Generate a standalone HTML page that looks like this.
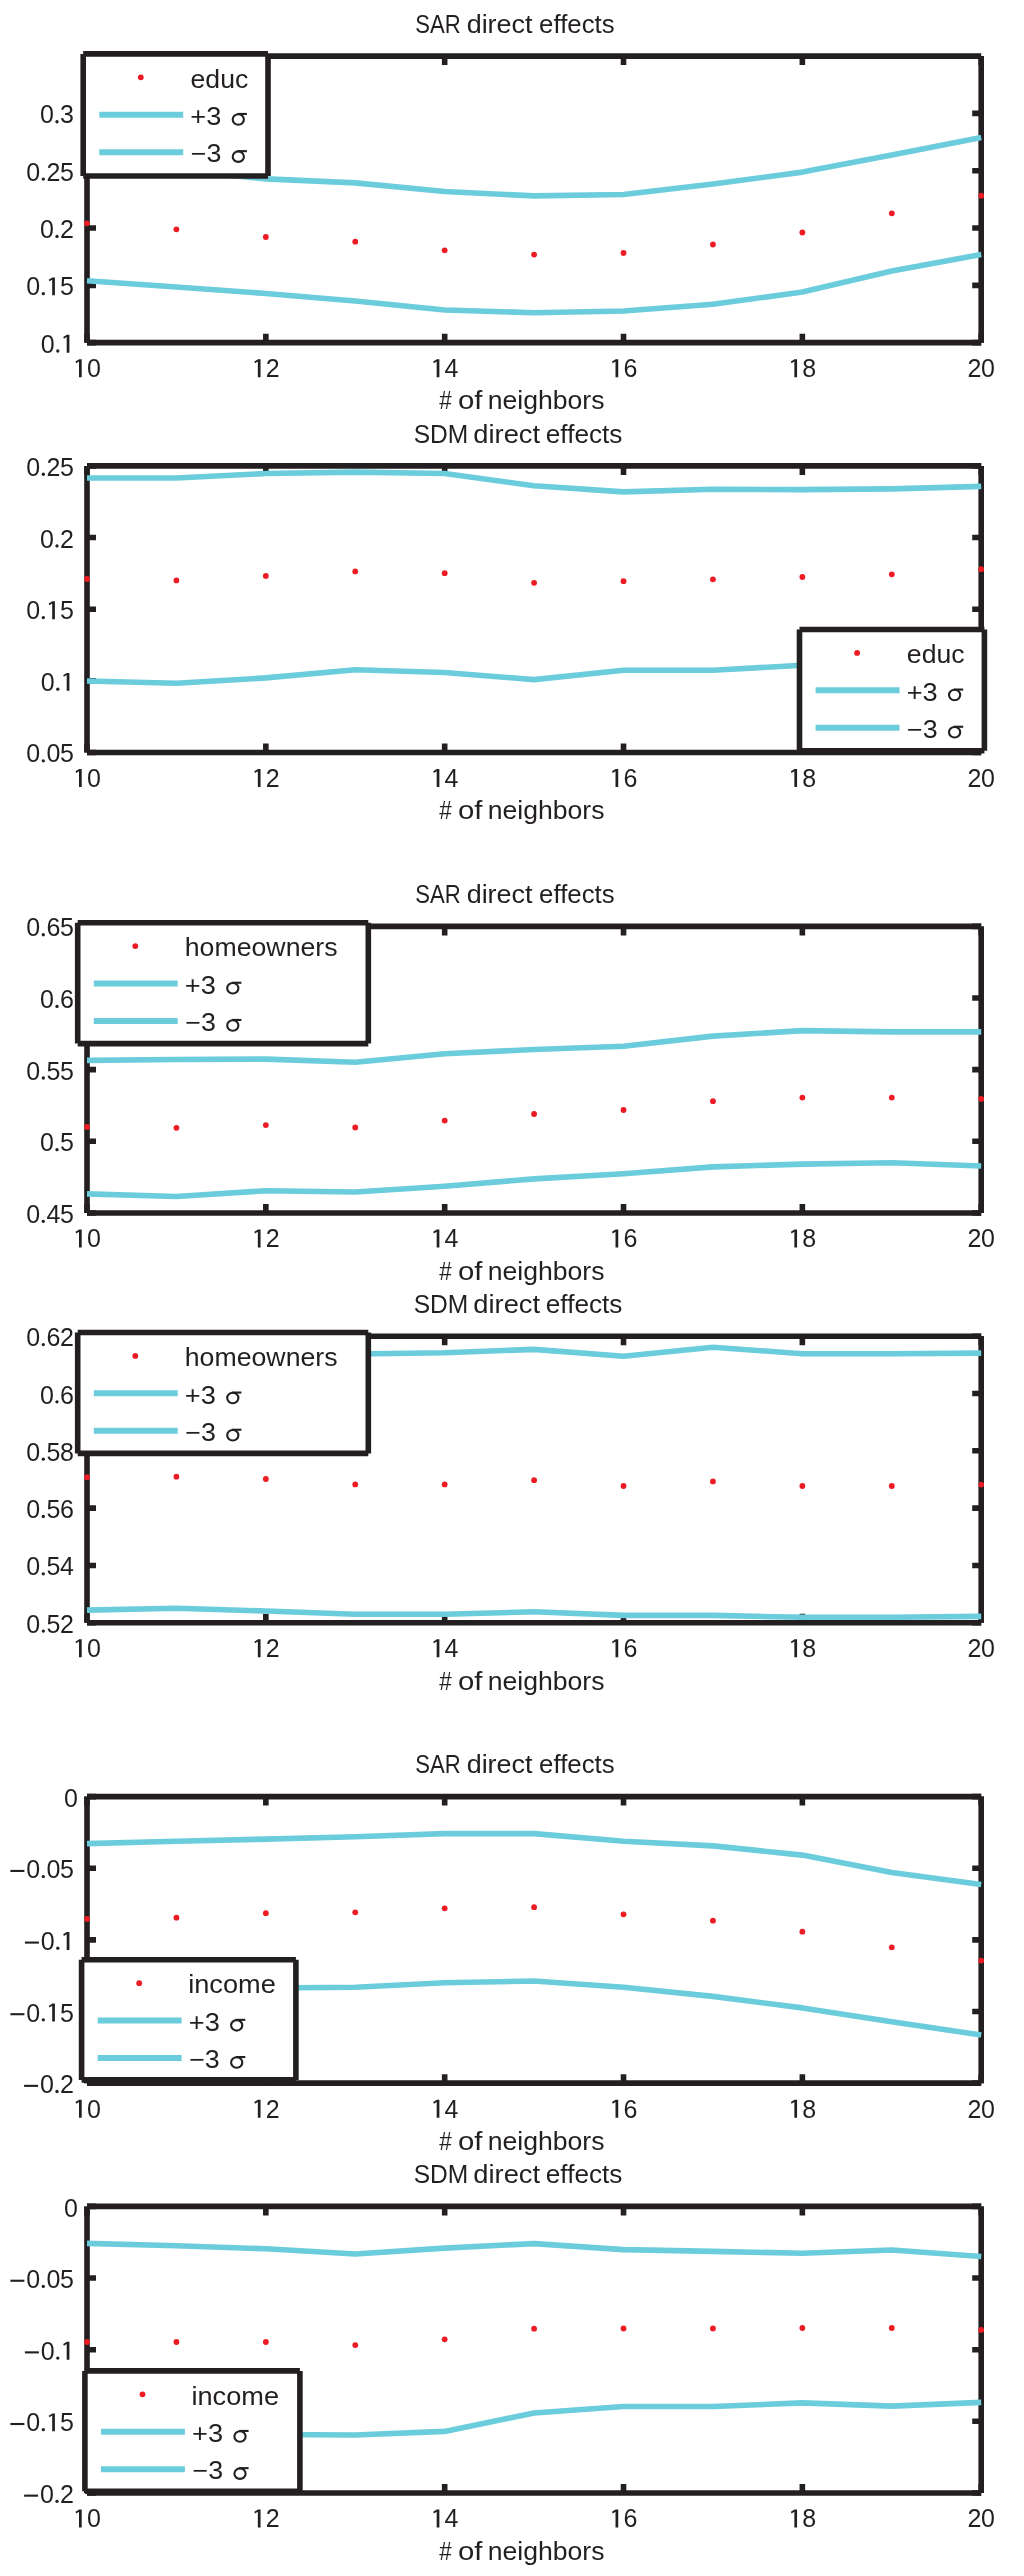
<!DOCTYPE html>
<html><head><meta charset="utf-8"><style>html,body{margin:0;padding:0;background:#fff;width:1024px;height:2576px;overflow:hidden}svg{display:block;will-change:transform}</style></head>
<body><svg width="1024" height="2576" viewBox="0 0 1024 2576" font-family="Liberation Sans, sans-serif" font-size="25" fill="#231f20">
<rect width="1024" height="2576" fill="#fff"/>
<g><path d="M87 342.65H981.2M87 56.1H981.2M87 56.1V342.65M981.2 56.1V342.65" stroke="#231f20" stroke-width="5.6" fill="none"/><path d="M87 342.65V333.65M87 56.1V65.1M265.84 342.65V333.65M265.84 56.1V65.1M444.68 342.65V333.65M444.68 56.1V65.1M623.52 342.65V333.65M623.52 56.1V65.1M802.36 342.65V333.65M802.36 56.1V65.1M981.2 342.65V333.65M981.2 56.1V65.1M87 342.65H96M981.2 342.65H972.2M87 285.34H96M981.2 285.34H972.2M87 228.03H96M981.2 228.03H972.2M87 170.72H96M981.2 170.72H972.2M87 113.41H96M981.2 113.41H972.2" stroke="#231f20" stroke-width="5.6" fill="none"/><polyline points="87,165 176.42,170 265.84,178.9 355.26,182.9 444.68,191.5 534.1,195.9 623.52,194.5 712.94,184 802.36,172.1 891.78,154.9 981.2,137.6" stroke="#6bccdc" stroke-width="5.6" fill="none" stroke-linejoin="round"/><polyline points="87,280.75 176.42,287 265.84,293.5 355.26,301 444.68,310 534.1,312.7 623.52,311 712.94,304.3 802.36,292 891.78,271 981.2,254.5" stroke="#6bccdc" stroke-width="5.6" fill="none" stroke-linejoin="round"/><circle cx="87" cy="223.3" r="2.9" fill="#ed1c24"/><circle cx="176.42" cy="229.3" r="2.9" fill="#ed1c24"/><circle cx="265.84" cy="237" r="2.9" fill="#ed1c24"/><circle cx="355.26" cy="241.7" r="2.9" fill="#ed1c24"/><circle cx="444.68" cy="250.3" r="2.9" fill="#ed1c24"/><circle cx="534.1" cy="254.6" r="2.9" fill="#ed1c24"/><circle cx="623.52" cy="253" r="2.9" fill="#ed1c24"/><circle cx="712.94" cy="244.5" r="2.9" fill="#ed1c24"/><circle cx="802.36" cy="232.5" r="2.9" fill="#ed1c24"/><circle cx="891.78" cy="213.3" r="2.9" fill="#ed1c24"/><circle cx="981.2" cy="195.7" r="2.9" fill="#ed1c24"/><path d="M81.70 377.15V359.25H79.20L75.50 361.55L76.20 363.15L79.00 361.45V377.15Z"/><text x="86.90" y="377.15">0</text><path d="M260.54 377.15V359.25H258.04L254.34 361.55L255.04 363.15L257.84 361.45V377.15Z"/><text x="265.74" y="377.15">2</text><path d="M439.38 377.15V359.25H436.88L433.18 361.55L433.88 363.15L436.68 361.45V377.15Z"/><text x="444.58" y="377.15">4</text><path d="M618.22 377.15V359.25H615.72L612.02 361.55L612.72 363.15L615.52 361.45V377.15Z"/><text x="623.42" y="377.15">6</text><path d="M797.06 377.15V359.25H794.56L790.86 361.55L791.56 363.15L794.36 361.45V377.15Z"/><text x="802.26" y="377.15">8</text><text x="967.40 981.10" y="377.15">20</text><circle cx="57.80" cy="351.00" r="1.65"/><path d="M69.40 352.65V334.75H66.90L63.20 337.05L63.90 338.65L66.70 336.95V352.65Z"/><text x="40.70" y="352.65">0</text><circle cx="43.30" cy="293.69" r="1.65"/><path d="M54.90 295.34V277.44H52.40L48.70 279.74L49.40 281.34L52.20 279.64V295.34Z"/><text x="26.20 60.10" y="295.34">05</text><circle cx="57.00" cy="236.38" r="1.65"/><text x="39.90 60.10" y="238.03">02</text><circle cx="43.30" cy="179.07" r="1.65"/><text x="26.20 46.40 60.10" y="180.72">025</text><circle cx="57.00" cy="121.76" r="1.65"/><text x="39.90 60.10" y="123.41">03</text><text x="415.25" y="32.70" textLength="45.38" lengthAdjust="spacingAndGlyphs">SAR</text><text x="466.67" y="32.70" textLength="65.83" lengthAdjust="spacingAndGlyphs">direct</text><text x="539.11" y="32.70" textLength="75.52" lengthAdjust="spacingAndGlyphs">effects</text><text x="439.30" y="409.40" textLength="12.51" lengthAdjust="spacingAndGlyphs">#</text><text x="457.97" y="409.40" textLength="24.49" lengthAdjust="spacingAndGlyphs">of</text><text x="487.74" y="409.40" textLength="116.73" lengthAdjust="spacingAndGlyphs">neighbors</text><rect x="83.2" y="53.9" width="184.8" height="122.1" fill="#fff"/><path d="M83.2 53.9H268M83.2 176H268M83.2 53.9V176M268 53.9V176" stroke="#231f20" stroke-width="5.6" fill="none"/><circle cx="140.8" cy="77.3" r="2.9" fill="#ed1c24"/><path d="M99.3 114.7H183.2M99.3 152.2H183.2" stroke="#6bccdc" stroke-width="6" fill="none"/><text x="190.57" y="87.50" textLength="57.73" lengthAdjust="spacingAndGlyphs">educ</text><text x="190.37" y="124.90" textLength="31.02" lengthAdjust="spacingAndGlyphs">+3</text><g transform="translate(191.8 124.9)" stroke="#231f20" fill="none" stroke-width="2.1"><ellipse cx="46.5" cy="-5.45" rx="5.6" ry="5.25"/><path d="M45.5 -10.95H55.1"/></g><text x="190.78" y="162.10" textLength="30.60" lengthAdjust="spacingAndGlyphs">−3</text><g transform="translate(191.8 162.1)" stroke="#231f20" fill="none" stroke-width="2.1"><ellipse cx="46.5" cy="-5.45" rx="5.6" ry="5.25"/><path d="M45.5 -10.95H55.1"/></g></g>
<g><path d="M87 752.45H981.2M87 465.9H981.2M87 465.9V752.45M981.2 465.9V752.45" stroke="#231f20" stroke-width="5.6" fill="none"/><path d="M87 752.45V743.45M87 465.9V474.9M265.84 752.45V743.45M265.84 465.9V474.9M444.68 752.45V743.45M444.68 465.9V474.9M623.52 752.45V743.45M623.52 465.9V474.9M802.36 752.45V743.45M802.36 465.9V474.9M981.2 752.45V743.45M981.2 465.9V474.9M87 752.45H96M981.2 752.45H972.2M87 680.81H96M981.2 680.81H972.2M87 609.18H96M981.2 609.18H972.2M87 537.54H96M981.2 537.54H972.2M87 465.9H96M981.2 465.9H972.2" stroke="#231f20" stroke-width="5.6" fill="none"/><polyline points="87,478 176.42,478 265.84,473.5 355.26,472.1 444.68,473.5 534.1,485.8 623.52,491.9 712.94,489.3 802.36,489.6 891.78,488.9 981.2,486.4" stroke="#6bccdc" stroke-width="5.6" fill="none" stroke-linejoin="round"/><polyline points="87,681 176.42,683.3 265.84,677.9 355.26,669.8 444.68,672.5 534.1,679.6 623.52,670.2 712.94,670.2 802.36,665.2 891.78,663 981.2,661" stroke="#6bccdc" stroke-width="5.6" fill="none" stroke-linejoin="round"/><circle cx="87" cy="579" r="2.9" fill="#ed1c24"/><circle cx="176.42" cy="580.4" r="2.9" fill="#ed1c24"/><circle cx="265.84" cy="575.9" r="2.9" fill="#ed1c24"/><circle cx="355.26" cy="571.4" r="2.9" fill="#ed1c24"/><circle cx="444.68" cy="573.2" r="2.9" fill="#ed1c24"/><circle cx="534.1" cy="582.8" r="2.9" fill="#ed1c24"/><circle cx="623.52" cy="581.2" r="2.9" fill="#ed1c24"/><circle cx="712.94" cy="579.3" r="2.9" fill="#ed1c24"/><circle cx="802.36" cy="577" r="2.9" fill="#ed1c24"/><circle cx="891.78" cy="574.3" r="2.9" fill="#ed1c24"/><circle cx="981.2" cy="569.2" r="2.9" fill="#ed1c24"/><path d="M81.70 786.95V769.05H79.20L75.50 771.35L76.20 772.95L79.00 771.25V786.95Z"/><text x="86.90" y="786.95">0</text><path d="M260.54 786.95V769.05H258.04L254.34 771.35L255.04 772.95L257.84 771.25V786.95Z"/><text x="265.74" y="786.95">2</text><path d="M439.38 786.95V769.05H436.88L433.18 771.35L433.88 772.95L436.68 771.25V786.95Z"/><text x="444.58" y="786.95">4</text><path d="M618.22 786.95V769.05H615.72L612.02 771.35L612.72 772.95L615.52 771.25V786.95Z"/><text x="623.42" y="786.95">6</text><path d="M797.06 786.95V769.05H794.56L790.86 771.35L791.56 772.95L794.36 771.25V786.95Z"/><text x="802.26" y="786.95">8</text><text x="967.40 981.10" y="786.95">20</text><circle cx="43.30" cy="760.80" r="1.65"/><text x="26.20 46.40 60.10" y="762.45">005</text><circle cx="57.80" cy="689.16" r="1.65"/><path d="M69.40 690.81V672.91H66.90L63.20 675.21L63.90 676.81L66.70 675.11V690.81Z"/><text x="40.70" y="690.81">0</text><circle cx="43.30" cy="617.53" r="1.65"/><path d="M54.90 619.18V601.28H52.40L48.70 603.58L49.40 605.18L52.20 603.48V619.18Z"/><text x="26.20 60.10" y="619.18">05</text><circle cx="57.00" cy="545.89" r="1.65"/><text x="39.90 60.10" y="547.54">02</text><circle cx="43.30" cy="474.25" r="1.65"/><text x="26.20 46.40 60.10" y="475.90">025</text><text x="413.68" y="442.50" textLength="54.58" lengthAdjust="spacingAndGlyphs">SDM</text><text x="473.35" y="442.50" textLength="66.75" lengthAdjust="spacingAndGlyphs">direct</text><text x="545.79" y="442.50" textLength="76.65" lengthAdjust="spacingAndGlyphs">effects</text><text x="439.30" y="819.20" textLength="12.51" lengthAdjust="spacingAndGlyphs">#</text><text x="457.97" y="819.20" textLength="24.49" lengthAdjust="spacingAndGlyphs">of</text><text x="487.74" y="819.20" textLength="116.73" lengthAdjust="spacingAndGlyphs">neighbors</text><rect x="799.5" y="629.5" width="184.9" height="121.2" fill="#fff"/><path d="M799.5 629.5H984.4M799.5 750.7H984.4M799.5 629.5V750.7M984.4 629.5V750.7" stroke="#231f20" stroke-width="5.6" fill="none"/><circle cx="857.1" cy="652.9" r="2.9" fill="#ed1c24"/><path d="M815.6 690.3H899.5M815.6 727.8H899.5" stroke="#6bccdc" stroke-width="6" fill="none"/><text x="906.87" y="663.10" textLength="57.73" lengthAdjust="spacingAndGlyphs">educ</text><text x="906.67" y="700.50" textLength="31.02" lengthAdjust="spacingAndGlyphs">+3</text><g transform="translate(908.1 700.5)" stroke="#231f20" fill="none" stroke-width="2.1"><ellipse cx="46.5" cy="-5.45" rx="5.6" ry="5.25"/><path d="M45.5 -10.95H55.1"/></g><text x="907.08" y="737.70" textLength="30.60" lengthAdjust="spacingAndGlyphs">−3</text><g transform="translate(908.1 737.7)" stroke="#231f20" fill="none" stroke-width="2.1"><ellipse cx="46.5" cy="-5.45" rx="5.6" ry="5.25"/><path d="M45.5 -10.95H55.1"/></g></g>
<g><path d="M87 1212.95H981.2M87 926.4H981.2M87 926.4V1212.95M981.2 926.4V1212.95" stroke="#231f20" stroke-width="5.6" fill="none"/><path d="M87 1212.95V1203.95M87 926.4V935.4M265.84 1212.95V1203.95M265.84 926.4V935.4M444.68 1212.95V1203.95M444.68 926.4V935.4M623.52 1212.95V1203.95M623.52 926.4V935.4M802.36 1212.95V1203.95M802.36 926.4V935.4M981.2 1212.95V1203.95M981.2 926.4V935.4M87 1212.95H96M981.2 1212.95H972.2M87 1141.31H96M981.2 1141.31H972.2M87 1069.67H96M981.2 1069.67H972.2M87 998.04H96M981.2 998.04H972.2M87 926.4H96M981.2 926.4H972.2" stroke="#231f20" stroke-width="5.6" fill="none"/><polyline points="87,1060.4 176.42,1059.5 265.84,1059.1 355.26,1062.2 444.68,1053.7 534.1,1049.5 623.52,1046.2 712.94,1036.1 802.36,1030.6 891.78,1031.9 981.2,1031.9" stroke="#6bccdc" stroke-width="5.6" fill="none" stroke-linejoin="round"/><polyline points="87,1193.9 176.42,1196.5 265.84,1190.7 355.26,1192 444.68,1186.2 534.1,1178.9 623.52,1173.8 712.94,1166.9 802.36,1164.1 891.78,1162.7 981.2,1166" stroke="#6bccdc" stroke-width="5.6" fill="none" stroke-linejoin="round"/><circle cx="87" cy="1126.9" r="2.9" fill="#ed1c24"/><circle cx="176.42" cy="1127.8" r="2.9" fill="#ed1c24"/><circle cx="265.84" cy="1125.1" r="2.9" fill="#ed1c24"/><circle cx="355.26" cy="1127.4" r="2.9" fill="#ed1c24"/><circle cx="444.68" cy="1120.6" r="2.9" fill="#ed1c24"/><circle cx="534.1" cy="1114" r="2.9" fill="#ed1c24"/><circle cx="623.52" cy="1110" r="2.9" fill="#ed1c24"/><circle cx="712.94" cy="1101.2" r="2.9" fill="#ed1c24"/><circle cx="802.36" cy="1097.6" r="2.9" fill="#ed1c24"/><circle cx="891.78" cy="1097.6" r="2.9" fill="#ed1c24"/><circle cx="981.2" cy="1098.9" r="2.9" fill="#ed1c24"/><path d="M81.70 1247.45V1229.55H79.20L75.50 1231.85L76.20 1233.45L79.00 1231.75V1247.45Z"/><text x="86.90" y="1247.45">0</text><path d="M260.54 1247.45V1229.55H258.04L254.34 1231.85L255.04 1233.45L257.84 1231.75V1247.45Z"/><text x="265.74" y="1247.45">2</text><path d="M439.38 1247.45V1229.55H436.88L433.18 1231.85L433.88 1233.45L436.68 1231.75V1247.45Z"/><text x="444.58" y="1247.45">4</text><path d="M618.22 1247.45V1229.55H615.72L612.02 1231.85L612.72 1233.45L615.52 1231.75V1247.45Z"/><text x="623.42" y="1247.45">6</text><path d="M797.06 1247.45V1229.55H794.56L790.86 1231.85L791.56 1233.45L794.36 1231.75V1247.45Z"/><text x="802.26" y="1247.45">8</text><text x="967.40 981.10" y="1247.45">20</text><circle cx="43.30" cy="1221.30" r="1.65"/><text x="26.20 46.40 60.10" y="1222.95">045</text><circle cx="57.00" cy="1149.66" r="1.65"/><text x="39.90 60.10" y="1151.31">05</text><circle cx="43.30" cy="1078.02" r="1.65"/><text x="26.20 46.40 60.10" y="1079.67">055</text><circle cx="57.00" cy="1006.39" r="1.65"/><text x="39.90 60.10" y="1008.04">06</text><circle cx="43.30" cy="934.75" r="1.65"/><text x="26.20 46.40 60.10" y="936.40">065</text><text x="415.25" y="903.00" textLength="45.38" lengthAdjust="spacingAndGlyphs">SAR</text><text x="466.67" y="903.00" textLength="65.83" lengthAdjust="spacingAndGlyphs">direct</text><text x="539.11" y="903.00" textLength="75.52" lengthAdjust="spacingAndGlyphs">effects</text><text x="439.30" y="1279.70" textLength="12.51" lengthAdjust="spacingAndGlyphs">#</text><text x="457.97" y="1279.70" textLength="24.49" lengthAdjust="spacingAndGlyphs">of</text><text x="487.74" y="1279.70" textLength="116.73" lengthAdjust="spacingAndGlyphs">neighbors</text><rect x="77.7" y="922.7" width="290.6" height="120.9" fill="#fff"/><path d="M77.7 922.7H368.3M77.7 1043.6H368.3M77.7 922.7V1043.6M368.3 922.7V1043.6" stroke="#231f20" stroke-width="5.6" fill="none"/><circle cx="135.3" cy="946.1" r="2.9" fill="#ed1c24"/><path d="M93.8 983.5H177.7M93.8 1021H177.7" stroke="#6bccdc" stroke-width="6" fill="none"/><text x="184.75" y="956.30" textLength="152.82" lengthAdjust="spacingAndGlyphs">homeowners</text><text x="184.87" y="993.70" textLength="31.02" lengthAdjust="spacingAndGlyphs">+3</text><g transform="translate(186.3 993.7)" stroke="#231f20" fill="none" stroke-width="2.1"><ellipse cx="46.5" cy="-5.45" rx="5.6" ry="5.25"/><path d="M45.5 -10.95H55.1"/></g><text x="185.28" y="1030.90" textLength="30.60" lengthAdjust="spacingAndGlyphs">−3</text><g transform="translate(186.3 1030.9)" stroke="#231f20" fill="none" stroke-width="2.1"><ellipse cx="46.5" cy="-5.45" rx="5.6" ry="5.25"/><path d="M45.5 -10.95H55.1"/></g></g>
<g><path d="M87 1622.75H981.2M87 1336.2H981.2M87 1336.2V1622.75M981.2 1336.2V1622.75" stroke="#231f20" stroke-width="5.6" fill="none"/><path d="M87 1622.75V1613.75M87 1336.2V1345.2M265.84 1622.75V1613.75M265.84 1336.2V1345.2M444.68 1622.75V1613.75M444.68 1336.2V1345.2M623.52 1622.75V1613.75M623.52 1336.2V1345.2M802.36 1622.75V1613.75M802.36 1336.2V1345.2M981.2 1622.75V1613.75M981.2 1336.2V1345.2M87 1622.75H96M981.2 1622.75H972.2M87 1565.44H96M981.2 1565.44H972.2M87 1508.13H96M981.2 1508.13H972.2M87 1450.82H96M981.2 1450.82H972.2M87 1393.51H96M981.2 1393.51H972.2M87 1336.2H96M981.2 1336.2H972.2" stroke="#231f20" stroke-width="5.6" fill="none"/><polyline points="87,1354 176.42,1354 265.84,1354 355.26,1354 444.68,1352.8 534.1,1349.4 623.52,1356.3 712.94,1347.2 802.36,1353.75 891.78,1353.75 981.2,1353.1" stroke="#6bccdc" stroke-width="5.6" fill="none" stroke-linejoin="round"/><polyline points="87,1610.1 176.42,1608.3 265.84,1611 355.26,1614.2 444.68,1614.2 534.1,1611.8 623.52,1615.4 712.94,1615.4 802.36,1617.3 891.78,1617.3 981.2,1616.4" stroke="#6bccdc" stroke-width="5.6" fill="none" stroke-linejoin="round"/><circle cx="87" cy="1477.2" r="2.9" fill="#ed1c24"/><circle cx="176.42" cy="1476.7" r="2.9" fill="#ed1c24"/><circle cx="265.84" cy="1479" r="2.9" fill="#ed1c24"/><circle cx="355.26" cy="1484.4" r="2.9" fill="#ed1c24"/><circle cx="444.68" cy="1484.4" r="2.9" fill="#ed1c24"/><circle cx="534.1" cy="1480.2" r="2.9" fill="#ed1c24"/><circle cx="623.52" cy="1486" r="2.9" fill="#ed1c24"/><circle cx="712.94" cy="1481.4" r="2.9" fill="#ed1c24"/><circle cx="802.36" cy="1486" r="2.9" fill="#ed1c24"/><circle cx="891.78" cy="1486" r="2.9" fill="#ed1c24"/><circle cx="981.2" cy="1484.6" r="2.9" fill="#ed1c24"/><path d="M81.70 1657.25V1639.35H79.20L75.50 1641.65L76.20 1643.25L79.00 1641.55V1657.25Z"/><text x="86.90" y="1657.25">0</text><path d="M260.54 1657.25V1639.35H258.04L254.34 1641.65L255.04 1643.25L257.84 1641.55V1657.25Z"/><text x="265.74" y="1657.25">2</text><path d="M439.38 1657.25V1639.35H436.88L433.18 1641.65L433.88 1643.25L436.68 1641.55V1657.25Z"/><text x="444.58" y="1657.25">4</text><path d="M618.22 1657.25V1639.35H615.72L612.02 1641.65L612.72 1643.25L615.52 1641.55V1657.25Z"/><text x="623.42" y="1657.25">6</text><path d="M797.06 1657.25V1639.35H794.56L790.86 1641.65L791.56 1643.25L794.36 1641.55V1657.25Z"/><text x="802.26" y="1657.25">8</text><text x="967.40 981.10" y="1657.25">20</text><circle cx="43.30" cy="1631.10" r="1.65"/><text x="26.20 46.40 60.10" y="1632.75">052</text><circle cx="43.30" cy="1573.79" r="1.65"/><text x="26.20 46.40 60.10" y="1575.44">054</text><circle cx="43.30" cy="1516.48" r="1.65"/><text x="26.20 46.40 60.10" y="1518.13">056</text><circle cx="43.30" cy="1459.17" r="1.65"/><text x="26.20 46.40 60.10" y="1460.82">058</text><circle cx="57.00" cy="1401.86" r="1.65"/><text x="39.90 60.10" y="1403.51">06</text><circle cx="43.30" cy="1344.55" r="1.65"/><text x="26.20 46.40 60.10" y="1346.20">062</text><text x="413.68" y="1312.80" textLength="54.58" lengthAdjust="spacingAndGlyphs">SDM</text><text x="473.35" y="1312.80" textLength="66.75" lengthAdjust="spacingAndGlyphs">direct</text><text x="545.79" y="1312.80" textLength="76.65" lengthAdjust="spacingAndGlyphs">effects</text><text x="439.30" y="1689.50" textLength="12.51" lengthAdjust="spacingAndGlyphs">#</text><text x="457.97" y="1689.50" textLength="24.49" lengthAdjust="spacingAndGlyphs">of</text><text x="487.74" y="1689.50" textLength="116.73" lengthAdjust="spacingAndGlyphs">neighbors</text><rect x="77.7" y="1332.5" width="290.6" height="120.9" fill="#fff"/><path d="M77.7 1332.5H368.3M77.7 1453.4H368.3M77.7 1332.5V1453.4M368.3 1332.5V1453.4" stroke="#231f20" stroke-width="5.6" fill="none"/><circle cx="135.3" cy="1355.9" r="2.9" fill="#ed1c24"/><path d="M93.8 1393.3H177.7M93.8 1430.8H177.7" stroke="#6bccdc" stroke-width="6" fill="none"/><text x="184.75" y="1366.10" textLength="152.82" lengthAdjust="spacingAndGlyphs">homeowners</text><text x="184.87" y="1403.50" textLength="31.02" lengthAdjust="spacingAndGlyphs">+3</text><g transform="translate(186.3 1403.5)" stroke="#231f20" fill="none" stroke-width="2.1"><ellipse cx="46.5" cy="-5.45" rx="5.6" ry="5.25"/><path d="M45.5 -10.95H55.1"/></g><text x="185.28" y="1440.70" textLength="30.60" lengthAdjust="spacingAndGlyphs">−3</text><g transform="translate(186.3 1440.7)" stroke="#231f20" fill="none" stroke-width="2.1"><ellipse cx="46.5" cy="-5.45" rx="5.6" ry="5.25"/><path d="M45.5 -10.95H55.1"/></g></g>
<g><path d="M87 2083.15H981.2M87 1796.6H981.2M87 1796.6V2083.15M981.2 1796.6V2083.15" stroke="#231f20" stroke-width="5.6" fill="none"/><path d="M87 2083.15V2074.15M87 1796.6V1805.6M265.84 2083.15V2074.15M265.84 1796.6V1805.6M444.68 2083.15V2074.15M444.68 1796.6V1805.6M623.52 2083.15V2074.15M623.52 1796.6V1805.6M802.36 2083.15V2074.15M802.36 1796.6V1805.6M981.2 2083.15V2074.15M981.2 1796.6V1805.6M87 2083.15H96M981.2 2083.15H972.2M87 2011.51H96M981.2 2011.51H972.2M87 1939.88H96M981.2 1939.88H972.2M87 1868.24H96M981.2 1868.24H972.2M87 1796.6H96M981.2 1796.6H972.2" stroke="#231f20" stroke-width="5.6" fill="none"/><polyline points="87,1843.6 176.42,1841.3 265.84,1839.1 355.26,1836.8 444.68,1833.6 534.1,1833.6 623.52,1841.3 712.94,1845.9 802.36,1855.1 891.78,1872.5 981.2,1884.5" stroke="#6bccdc" stroke-width="5.6" fill="none" stroke-linejoin="round"/><polyline points="87,1990 176.42,1989 265.84,1988 355.26,1987.3 444.68,1982.7 534.1,1981 623.52,1987.3 712.94,1996.4 802.36,2007.9 891.78,2021.7 981.2,2035" stroke="#6bccdc" stroke-width="5.6" fill="none" stroke-linejoin="round"/><circle cx="87" cy="1919" r="2.9" fill="#ed1c24"/><circle cx="176.42" cy="1917.7" r="2.9" fill="#ed1c24"/><circle cx="265.84" cy="1913.2" r="2.9" fill="#ed1c24"/><circle cx="355.26" cy="1912.3" r="2.9" fill="#ed1c24"/><circle cx="444.68" cy="1908.3" r="2.9" fill="#ed1c24"/><circle cx="534.1" cy="1907.2" r="2.9" fill="#ed1c24"/><circle cx="623.52" cy="1914.3" r="2.9" fill="#ed1c24"/><circle cx="712.94" cy="1920.7" r="2.9" fill="#ed1c24"/><circle cx="802.36" cy="1931.7" r="2.9" fill="#ed1c24"/><circle cx="891.78" cy="1947.3" r="2.9" fill="#ed1c24"/><circle cx="981.2" cy="1960.6" r="2.9" fill="#ed1c24"/><path d="M81.70 2117.65V2099.75H79.20L75.50 2102.05L76.20 2103.65L79.00 2101.95V2117.65Z"/><text x="86.90" y="2117.65">0</text><path d="M260.54 2117.65V2099.75H258.04L254.34 2102.05L255.04 2103.65L257.84 2101.95V2117.65Z"/><text x="265.74" y="2117.65">2</text><path d="M439.38 2117.65V2099.75H436.88L433.18 2102.05L433.88 2103.65L436.68 2101.95V2117.65Z"/><text x="444.58" y="2117.65">4</text><path d="M618.22 2117.65V2099.75H615.72L612.02 2102.05L612.72 2103.65L615.52 2101.95V2117.65Z"/><text x="623.42" y="2117.65">6</text><path d="M797.06 2117.65V2099.75H794.56L790.86 2102.05L791.56 2103.65L794.36 2101.95V2117.65Z"/><text x="802.26" y="2117.65">8</text><text x="967.40 981.10" y="2117.65">20</text><rect x="24.10" y="2084.80" width="14" height="2.1"/><circle cx="57.00" cy="2091.50" r="1.65"/><text x="39.90 60.10" y="2093.15">02</text><rect x="10.40" y="2013.16" width="14" height="2.1"/><circle cx="43.30" cy="2019.86" r="1.65"/><path d="M54.90 2021.51V2003.61H52.40L48.70 2005.91L49.40 2007.51L52.20 2005.81V2021.51Z"/><text x="26.20 60.10" y="2021.51">05</text><rect x="24.90" y="1941.53" width="14" height="2.1"/><circle cx="57.80" cy="1948.22" r="1.65"/><path d="M69.40 1949.88V1931.97H66.90L63.20 1934.28L63.90 1935.88L66.70 1934.17V1949.88Z"/><text x="40.70" y="1949.88">0</text><rect x="10.40" y="1869.89" width="14" height="2.1"/><circle cx="43.30" cy="1876.59" r="1.65"/><text x="26.20 46.40 60.10" y="1878.24">005</text><text x="64.10" y="1806.80">0</text><text x="415.25" y="1773.20" textLength="45.38" lengthAdjust="spacingAndGlyphs">SAR</text><text x="466.67" y="1773.20" textLength="65.83" lengthAdjust="spacingAndGlyphs">direct</text><text x="539.11" y="1773.20" textLength="75.52" lengthAdjust="spacingAndGlyphs">effects</text><text x="439.30" y="2149.90" textLength="12.51" lengthAdjust="spacingAndGlyphs">#</text><text x="457.97" y="2149.90" textLength="24.49" lengthAdjust="spacingAndGlyphs">of</text><text x="487.74" y="2149.90" textLength="116.73" lengthAdjust="spacingAndGlyphs">neighbors</text><rect x="81.6" y="1959.8" width="214.3" height="120.1" fill="#fff"/><path d="M81.6 1959.8H295.9M81.6 2079.9H295.9M81.6 1959.8V2079.9M295.9 1959.8V2079.9" stroke="#231f20" stroke-width="5.6" fill="none"/><circle cx="139.2" cy="1983.2" r="2.9" fill="#ed1c24"/><path d="M97.7 2020.6H181.6M97.7 2058.1H181.6" stroke="#6bccdc" stroke-width="6" fill="none"/><text x="188.18" y="1993.40" textLength="87.63" lengthAdjust="spacingAndGlyphs">income</text><text x="188.77" y="2030.80" textLength="31.02" lengthAdjust="spacingAndGlyphs">+3</text><g transform="translate(190.2 2030.8)" stroke="#231f20" fill="none" stroke-width="2.1"><ellipse cx="46.5" cy="-5.45" rx="5.6" ry="5.25"/><path d="M45.5 -10.95H55.1"/></g><text x="189.18" y="2068.00" textLength="30.60" lengthAdjust="spacingAndGlyphs">−3</text><g transform="translate(190.2 2068)" stroke="#231f20" fill="none" stroke-width="2.1"><ellipse cx="46.5" cy="-5.45" rx="5.6" ry="5.25"/><path d="M45.5 -10.95H55.1"/></g></g>
<g><path d="M87 2492.95H981.2M87 2206.4H981.2M87 2206.4V2492.95M981.2 2206.4V2492.95" stroke="#231f20" stroke-width="5.6" fill="none"/><path d="M87 2492.95V2483.95M87 2206.4V2215.4M265.84 2492.95V2483.95M265.84 2206.4V2215.4M444.68 2492.95V2483.95M444.68 2206.4V2215.4M623.52 2492.95V2483.95M623.52 2206.4V2215.4M802.36 2492.95V2483.95M802.36 2206.4V2215.4M981.2 2492.95V2483.95M981.2 2206.4V2215.4M87 2492.95H96M981.2 2492.95H972.2M87 2421.31H96M981.2 2421.31H972.2M87 2349.68H96M981.2 2349.68H972.2M87 2278.04H96M981.2 2278.04H972.2M87 2206.4H96M981.2 2206.4H972.2" stroke="#231f20" stroke-width="5.6" fill="none"/><polyline points="87,2243.4 176.42,2245.8 265.84,2248.8 355.26,2254 444.68,2248.1 534.1,2243.6 623.52,2249.6 712.94,2251.4 802.36,2253.2 891.78,2250 981.2,2256.5" stroke="#6bccdc" stroke-width="5.6" fill="none" stroke-linejoin="round"/><polyline points="87,2433 176.42,2434 265.84,2434.5 355.26,2435 444.68,2431.4 534.1,2413 623.52,2406.5 712.94,2406.5 802.36,2402.9 891.78,2406.1 981.2,2402.4" stroke="#6bccdc" stroke-width="5.6" fill="none" stroke-linejoin="round"/><circle cx="87" cy="2342" r="2.9" fill="#ed1c24"/><circle cx="176.42" cy="2342" r="2.9" fill="#ed1c24"/><circle cx="265.84" cy="2342" r="2.9" fill="#ed1c24"/><circle cx="355.26" cy="2345.1" r="2.9" fill="#ed1c24"/><circle cx="444.68" cy="2339.3" r="2.9" fill="#ed1c24"/><circle cx="534.1" cy="2328.7" r="2.9" fill="#ed1c24"/><circle cx="623.52" cy="2328.5" r="2.9" fill="#ed1c24"/><circle cx="712.94" cy="2328.5" r="2.9" fill="#ed1c24"/><circle cx="802.36" cy="2328" r="2.9" fill="#ed1c24"/><circle cx="891.78" cy="2328" r="2.9" fill="#ed1c24"/><circle cx="981.2" cy="2329.9" r="2.9" fill="#ed1c24"/><path d="M81.70 2527.45V2509.55H79.20L75.50 2511.85L76.20 2513.45L79.00 2511.75V2527.45Z"/><text x="86.90" y="2527.45">0</text><path d="M260.54 2527.45V2509.55H258.04L254.34 2511.85L255.04 2513.45L257.84 2511.75V2527.45Z"/><text x="265.74" y="2527.45">2</text><path d="M439.38 2527.45V2509.55H436.88L433.18 2511.85L433.88 2513.45L436.68 2511.75V2527.45Z"/><text x="444.58" y="2527.45">4</text><path d="M618.22 2527.45V2509.55H615.72L612.02 2511.85L612.72 2513.45L615.52 2511.75V2527.45Z"/><text x="623.42" y="2527.45">6</text><path d="M797.06 2527.45V2509.55H794.56L790.86 2511.85L791.56 2513.45L794.36 2511.75V2527.45Z"/><text x="802.26" y="2527.45">8</text><text x="967.40 981.10" y="2527.45">20</text><rect x="24.10" y="2494.60" width="14" height="2.1"/><circle cx="57.00" cy="2501.30" r="1.65"/><text x="39.90 60.10" y="2502.95">02</text><rect x="10.40" y="2422.96" width="14" height="2.1"/><circle cx="43.30" cy="2429.66" r="1.65"/><path d="M54.90 2431.31V2413.41H52.40L48.70 2415.71L49.40 2417.31L52.20 2415.61V2431.31Z"/><text x="26.20 60.10" y="2431.31">05</text><rect x="24.90" y="2351.33" width="14" height="2.1"/><circle cx="57.80" cy="2358.03" r="1.65"/><path d="M69.40 2359.68V2341.78H66.90L63.20 2344.08L63.90 2345.68L66.70 2343.98V2359.68Z"/><text x="40.70" y="2359.68">0</text><rect x="10.40" y="2279.69" width="14" height="2.1"/><circle cx="43.30" cy="2286.39" r="1.65"/><text x="26.20 46.40 60.10" y="2288.04">005</text><text x="64.10" y="2216.60">0</text><text x="413.68" y="2183.00" textLength="54.58" lengthAdjust="spacingAndGlyphs">SDM</text><text x="473.35" y="2183.00" textLength="66.75" lengthAdjust="spacingAndGlyphs">direct</text><text x="545.79" y="2183.00" textLength="76.65" lengthAdjust="spacingAndGlyphs">effects</text><text x="439.30" y="2559.70" textLength="12.51" lengthAdjust="spacingAndGlyphs">#</text><text x="457.97" y="2559.70" textLength="24.49" lengthAdjust="spacingAndGlyphs">of</text><text x="487.74" y="2559.70" textLength="116.73" lengthAdjust="spacingAndGlyphs">neighbors</text><rect x="84.9" y="2370.9" width="215" height="120.4" fill="#fff"/><path d="M84.9 2370.9H299.9M84.9 2491.3H299.9M84.9 2370.9V2491.3M299.9 2370.9V2491.3" stroke="#231f20" stroke-width="5.6" fill="none"/><circle cx="142.5" cy="2394.3" r="2.9" fill="#ed1c24"/><path d="M101 2431.7H184.9M101 2469.2H184.9" stroke="#6bccdc" stroke-width="6" fill="none"/><text x="191.48" y="2404.50" textLength="87.63" lengthAdjust="spacingAndGlyphs">income</text><text x="192.07" y="2441.90" textLength="31.02" lengthAdjust="spacingAndGlyphs">+3</text><g transform="translate(193.5 2441.9)" stroke="#231f20" fill="none" stroke-width="2.1"><ellipse cx="46.5" cy="-5.45" rx="5.6" ry="5.25"/><path d="M45.5 -10.95H55.1"/></g><text x="192.48" y="2479.10" textLength="30.60" lengthAdjust="spacingAndGlyphs">−3</text><g transform="translate(193.5 2479.1)" stroke="#231f20" fill="none" stroke-width="2.1"><ellipse cx="46.5" cy="-5.45" rx="5.6" ry="5.25"/><path d="M45.5 -10.95H55.1"/></g></g>
</svg></body></html>
